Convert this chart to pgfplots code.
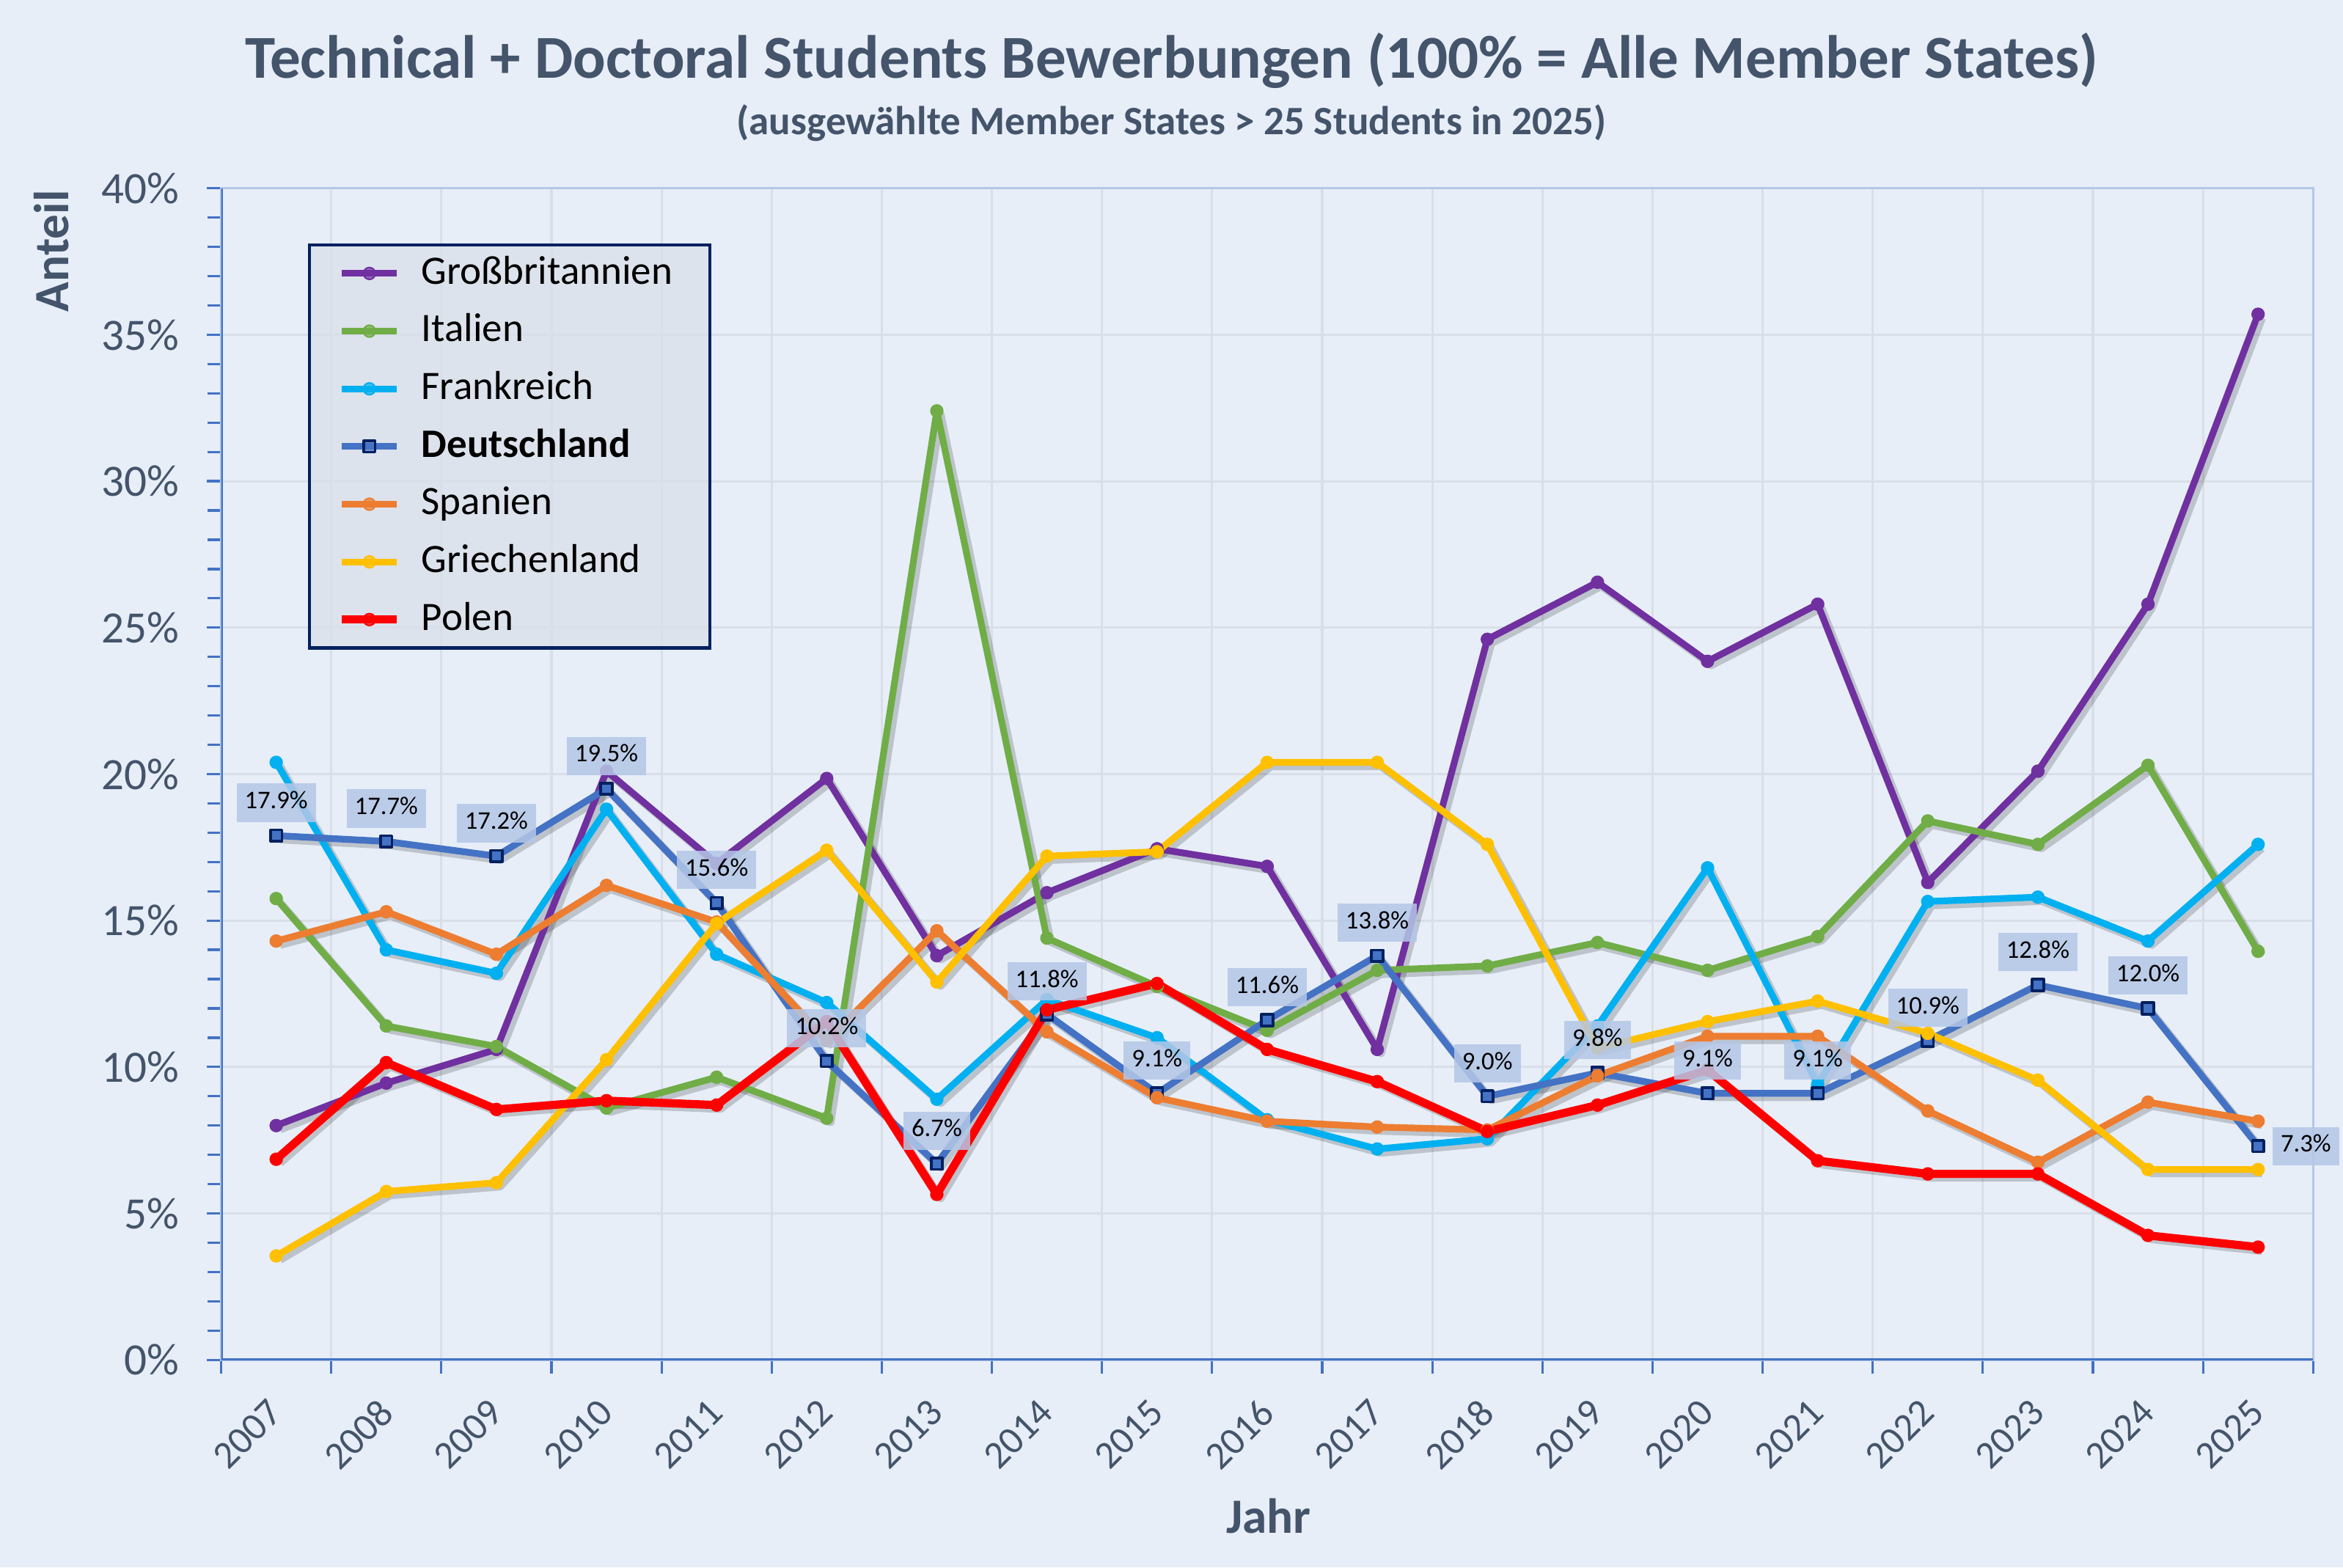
\documentclass[border=0pt]{standalone}
\usepackage{pgfplots}
\usepackage{pgfplotstable}
\pgfplotsset{compat=1.18}
\usepackage{fontspec}
\setmainfont{Carlito}

\definecolor{bg}{HTML}{E7EEF8}
\definecolor{legbg}{HTML}{D9DFE8}
\definecolor{gridc}{HTML}{D9DFE8}
\definecolor{axblue}{HTML}{4472C4}
\definecolor{lightbl}{HTML}{B4C7E7}
\definecolor{titlec}{HTML}{44546A}
\definecolor{navy}{HTML}{002060}
\definecolor{cGB}{HTML}{7030A0}
\definecolor{cIT}{HTML}{70AD47}
\definecolor{cFR}{HTML}{00B0F0}
\definecolor{cDE}{HTML}{4472C4}
\definecolor{cES}{HTML}{ED7D31}
\definecolor{cGR}{HTML}{FFC000}
\definecolor{cPL}{HTML}{FF0000}
\definecolor{lblbox}{HTML}{B4C7E7}

\pgfplotstableread{
x  GB    IT    FR    DE    ES    GR    PL
0  8.00  15.75 20.40 17.9  14.30 3.55  6.85
1  9.45  11.40 14.00 17.7  15.30 5.75  10.15
2  10.60 10.70 13.20 17.2  13.85 6.05  8.55
3  20.10 8.60  18.80 19.5  16.20 10.25 8.85
4  16.95 9.65  13.85 15.6  14.95 14.90 8.70
5  19.85 8.25  12.20 10.2  10.90 17.40 11.55
6  13.80 32.40 8.90  6.7   14.65 12.90 5.65
7  15.95 14.40 12.30 11.8  11.20 17.20 11.95
8  17.45 12.75 11.00 9.1   8.95  17.35 12.85
9  16.85 11.25 8.20  11.6  8.15  20.40 10.60
10 10.60 13.30 7.20  13.8  7.95  20.40 9.50
11 24.60 13.45 7.55  9.0   7.85  17.60 7.80
12 26.55 14.25 11.40 9.8   9.70  10.65 8.70
13 23.85 13.30 16.80 9.1   11.05 11.55 9.90
14 25.80 14.45 9.40  9.1   11.05 12.25 6.80
15 16.30 18.40 15.65 10.9  8.50  11.15 6.35
16 20.10 17.60 15.80 12.8  6.75  9.55  6.35
17 25.80 20.30 14.30 12.0  8.80  6.50  4.25
18 35.70 13.95 17.60 7.3   8.15  6.50  3.85
}\data

\pgfplotstableread{
x  DE
0  17.9
1  17.7
2  17.2
3  19.5
4  15.6
5  10.2
6  6.7
7  11.8
8  9.1
9  11.6
10 13.8
11 9.0
12 9.8
13 9.1
14 9.1
15 10.9
16 12.8
17 12.0
}\delabels

\pgfplotstableread{
x  DE
18 7.3
}\delast

\begin{document}
\begin{tikzpicture}
\fill[bg] (-74pt,-69.5pt) rectangle (710pt,455pt);
\begin{axis}[
  at={(0,0)}, anchor=south west, scale only axis,
  width=700pt, height=392pt,
  xmin=-0.5, xmax=18.5, ymin=0, ymax=40,
  xtick={0,...,18},
  xticklabels={2007,2008,2009,2010,2011,2012,2013,2014,2015,2016,2017,2018,2019,2020,2021,2022,2023,2024,2025},
  major x tick style={draw=none},
  minor xtick={-0.5,0.5,...,18.5},
  xminorgrids=true,
  minor x grid style={gridc, line width=0.75pt},
  ytick={0,5,...,40},
  yticklabels={0\%,5\%,10\%,15\%,20\%,25\%,30\%,35\%,40\%},
  minor y tick num=4,
  ymajorgrids=true,
  major y grid style={gridc, line width=0.75pt},
  tick align=outside, tick pos=left,
  major tick length=4.75pt, minor tick length=4.5pt,
  tick style={axblue, line width=0.8pt},
  axis line style={lightbl, line width=0.8pt},
  tick label style={text=titlec},
  xticklabel style={font=\fontsize{13}{15}\selectfont, anchor=north east, inner sep=0pt, xshift=-3.2pt, yshift=-7.5pt, rotate=45},
  yticklabel style={font=\fontsize{15}{17}\selectfont, anchor=east, inner sep=0pt, xshift=-9.1pt},
  /pgf/number format/assume math mode=true,
  legend cell align=left,
  legend style={at={(0.0414,0.9528)}, anchor=north west,
    fill=legbg, fill opacity=0.7, draw opacity=1, text opacity=1,
    draw=navy, line width=1pt,
    inner xsep=9.5pt, inner ysep=3pt, row sep=6.3pt, column sep=6.8pt,
    font=\fontsize{13.5}{16}\selectfont, text=black,
    nodes={inner sep=0pt, text height=10pt, text depth=3pt}},
  legend image code/.code={\draw[mark repeat=2, mark phase=2, #1] plot coordinates {(0pt,0pt) (9.25pt,0pt) (18.5pt,0pt)};},
  every axis plot/.append style={line join=round},
]
% shadows
\foreach \s in {GB,IT,FR,DE,ES,GR,PL}{
  \addplot[black, opacity=0.18, line width=2.6pt, xshift=1.3pt, yshift=-1.3pt, forget plot] table[x=x, y=\s] {\data};
}
\addplot[cGB, line width=2.25pt, mark=*, mark size=2pt, mark options={line width=0.5pt}] table[x=x, y=GB] {\data};
\addlegendentry{Großbritannien\hbox to 3pt{}}
\addplot[cIT, line width=2.25pt, mark=*, mark size=2pt, mark options={line width=0.5pt}] table[x=x, y=IT] {\data};
\addlegendentry{Italien}
\addplot[cFR, line width=2.25pt, mark=*, mark size=2pt, mark options={line width=0.5pt}] table[x=x, y=FR] {\data};
\addlegendentry{Frankreich}
\addplot[cDE, line width=2.25pt, mark=square*, mark size=1.9pt, mark options={fill=cDE, draw=navy, line width=0.9pt}] table[x=x, y=DE] {\data};
\addlegendentry{\textbf{Deutschland}}
\addplot[cES, line width=2.25pt, mark=*, mark size=2pt, mark options={line width=0.5pt}] table[x=x, y=ES] {\data};
\addlegendentry{Spanien}
\addplot[cGR, line width=2.25pt, mark=*, mark size=2pt, mark options={line width=0.5pt}] table[x=x, y=GR] {\data};
\addlegendentry{Griechenland}
\addplot[cPL, line width=2.75pt, mark=*, mark size=2pt, mark options={line width=0.5pt}] table[x=x, y=PL] {\data};
\addlegendentry{Polen}
% data labels
\addplot[draw=none, forget plot, point meta=y,
  nodes near coords={\pgfmathprintnumber[fixed, fixed zerofill, precision=1]{\pgfplotspointmeta}\%},
  every node near coord/.style={fill=lblbox, fill opacity=0.85, text opacity=1, text=black,
    font=\fontsize{8.5}{10}\selectfont, inner xsep=2.7pt, inner ysep=2.4pt,
    text height=6pt, text depth=2pt, anchor=center, yshift=11pt}]
  table[x=x, y=DE] {\delabels};
\addplot[draw=none, forget plot, point meta=y,
  nodes near coords={\pgfmathprintnumber[fixed, fixed zerofill, precision=1]{\pgfplotspointmeta}\%},
  every node near coord/.style={fill=lblbox, fill opacity=0.85, text opacity=1, text=black,
    font=\fontsize{8.5}{10}\selectfont, inner xsep=2.7pt, inner ysep=2.4pt,
    text height=6pt, text depth=2pt, anchor=center, xshift=16pt}]
  table[x=x, y=DE] {\delast};
\draw[axblue, line width=1pt] (rel axis cs:0,1) -- (rel axis cs:0,0) -- (rel axis cs:1,0);
\end{axis}
\node[anchor=base, text=titlec, font=\fontsize{20.4}{24}\selectfont\bfseries] at (318pt,428.75pt) {Technical + Doctoral Students Bewerbungen (100\% = Alle Member States)};
\node[anchor=base, text=titlec, font=\fontsize{13.5}{16}\selectfont\bfseries] at (318pt,410pt) {(ausgewählte Member States > 25 Students in 2025)};
\node[anchor=base, rotate=90, text=titlec, font=\fontsize{16.5}{20}\selectfont\bfseries] at (-51pt,371pt) {Anteil};
\node[anchor=base, text=titlec, font=\fontsize{16.5}{20}\selectfont\bfseries] at (350.5pt,-58pt) {Jahr};
\pgfresetboundingbox
\useasboundingbox (-74pt,-69.5pt) rectangle (710pt,455pt);
\end{tikzpicture}
\end{document}
